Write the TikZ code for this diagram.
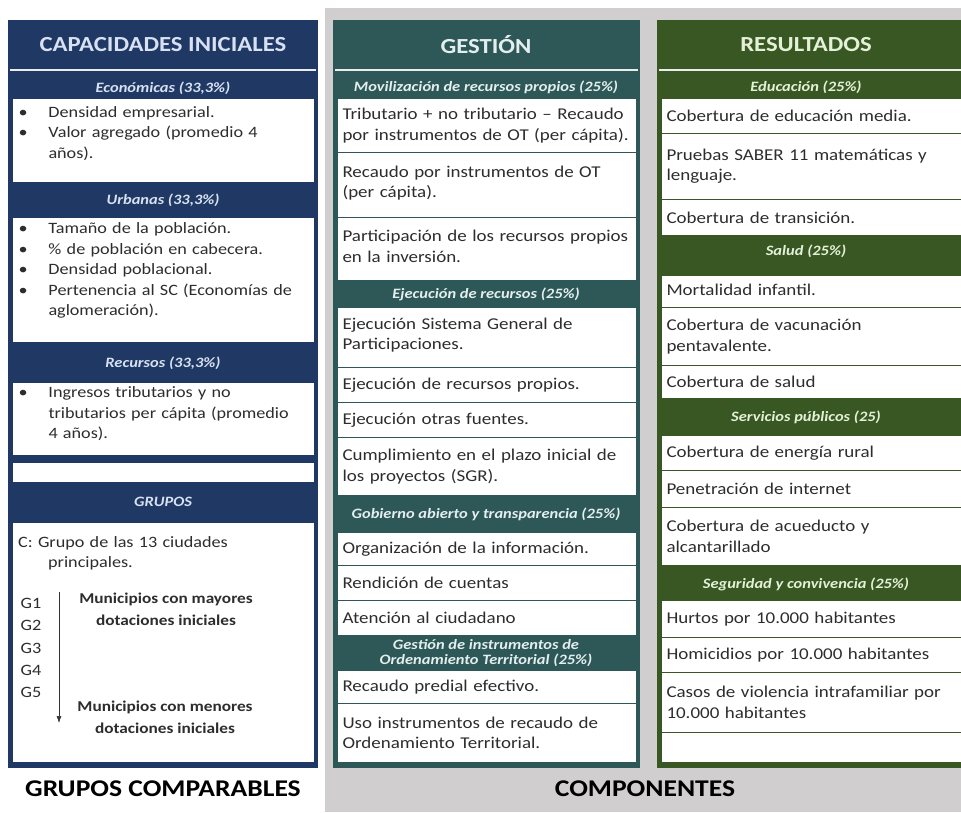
\documentclass[tikz,border=0pt]{standalone}
\usepackage{fontspec}
\setmainfont{Carlito}[FakeStretch=1.15]
\usetikzlibrary{arrows.meta}

\definecolor{capBlue}{RGB}{32,56,100}
\definecolor{gesTeal}{RGB}{46,88,88}
\definecolor{resGreen}{RGB}{56,87,35}
\definecolor{bgGray}{RGB}{208,206,206}
\definecolor{txt}{RGB}{45,45,45}
\definecolor{subBlue}{RGB}{215,225,242}
\definecolor{subTeal}{RGB}{228,238,238}
\definecolor{subGreen}{RGB}{228,240,215}

\newcommand\bodyfont{\fontsize{16.5}{20.5}\selectfont}
\newcommand\leftfont{\fontsize{15.8}{20.5}\selectfont}
\newcommand\bul[1]{\par\hangindent=31pt\hangafter=1\noindent\makebox[31pt][l]{\hspace{1pt}\textbullet}#1\par}
\newcommand\lift[1]{\par\vspace*{-#1pt}\noindent}

\begin{document}
\begin{tikzpicture}[x=1pt,y=-1pt,
  head/.style={font=\fontsize{21.5}{24}\selectfont\bfseries},
  sub/.style={font=\fontsize{14.3}{15}\selectfont\bfseries\itshape,align=center},
  cell/.style={fill=white,anchor=north west,inner sep=5pt,align=left,font=\bodyfont,text=txt,line width=1pt},
  cellL/.style={cell,draw=capBlue,text width=292pt,font=\leftfont},
  cellM/.style={cell,draw=gesTeal,text width=289pt},
  cellR/.style={cell,draw=resGreen,text width=304pt},
  plain/.style={font=\leftfont,text=txt,inner sep=0pt},
  muni/.style={font=\fontsize{15}{22}\selectfont\bfseries,text=txt,align=center,inner sep=0pt},
  foot/.style={font=\fontsize{24}{28}\selectfont\bfseries,text=black}]
\def\colL{163}
\def\colM{486}
\def\colR{806}

\useasboundingbox (0,0) rectangle (961,812);
\clip (0,0) rectangle (961,812);

% fondos
\fill[bgGray] (325,8) rectangle (961,812);
\fill[capBlue] (8,20) rectangle (318,768);
\fill[gesTeal] (333,20) rectangle (640,768);
\fill[resGreen] (657,20) rectangle (975,768);
\draw[white!85!gray,line width=1.5pt] (10,70) -- (316,70);
\draw[white!85!gray,line width=1.5pt] (335,70) -- (638,70);
\draw[white!85!gray,line width=1.5pt] (659,70) -- (975,70);

% capacidades iniciales
\node[head,text=subBlue] (capH) at (\colL,45) {CAPACIDADES INICIALES};
\node[sub,text=subBlue] (econ) at (\colL,88) {Económicas (33,3\%)};
\node[cellL,minimum height=84pt] (econB) at (12,98) {\lift{24}\bul{Densidad empresarial.}\bul{Valor agregado (promedio 4\newline años).}};
\node[sub,text=subBlue] (urb) at (\colL,200) {Urbanas (33,3\%)};
\node[cellL,minimum height=125pt] (urbB) at (12,217) {\lift{28}\bul{Tamaño de la población.}\bul{\% de población en cabecera.}\bul{Densidad poblacional.}\bul{Pertenencia al SC (Economías de\newline aglomeración).}};
\node[sub,text=subBlue] (recu) at (\colL,363) {Recursos (33,3\%)};
\node[cellL,minimum height=73pt] (recB) at (12,382) {\lift{20}\bul{Ingresos tributarios y no\newline tributarios per cápita (promedio\newline 4 años).}};
\node[cellL,minimum height=20pt] (blankL) at (12,462) {};
\node[sub,text=subBlue] (grp) at (\colL,502) {GRUPOS};
\node[cellL,minimum height=240pt] (grpB) at (12,522) {};

\node[plain,anchor=north west,text width=290pt,align=left] (grpC) at (18,536) {\hangindent=30pt\hangafter=1 C: Grupo de las 13 ciudades\newline principales.\par};
\node[plain] (g1) at (31,603) {G1};
\node[plain] (g2) at (31,625) {G2};
\node[plain] (g3) at (31,648) {G3};
\node[plain] (g4) at (31,670) {G4};
\node[plain] (g5) at (31,692) {G5};
\coordinate (arrTop) at (59,592);
\coordinate (arrBot) at (59,723);
\draw[-{Latex[length=7pt,width=5pt]},line width=0.6pt,black!80] (arrTop) -- (arrBot);
\node[muni] (mayor) at (166,609) {Municipios con mayores\\dotaciones iniciales};
\node[muni] (menor) at (165,717) {Municipios con menores\\dotaciones iniciales};

% gestion
\node[head,text=subTeal] (gesH) at (\colM,45) {GESTIÓN};
\node[sub,text=subTeal] (movil) at (\colM,87) {Movilización de recursos propios (25\%)};
\node[cellM,minimum height=54pt] (gesA1) at (337,98) {Tributario + no tributario -- Recaudo\\por instrumentos de OT (per cápita).};
\node[cellM,minimum height=65pt] (gesA2) at (337,152) {\lift{13}Recaudo por instrumentos de OT\newline (per cápita).};
\node[cellM,minimum height=63pt] (gesA3) at (337,217) {\lift{14}Participación de los recursos propios\newline en la inversión.};
\node[sub,text=subTeal] (ejec) at (\colM,294) {Ejecución de recursos (25\%)};
\node[cellM,minimum height=60pt] (gesB1) at (337,307) {\lift{14}Ejecución Sistema General de\newline Participaciones.};
\node[cellM,minimum height=35pt] (gesB2) at (337,367) {Ejecución de recursos propios.};
\node[cellM,minimum height=35pt] (gesB3) at (337,402) {Ejecución otras fuentes.};
\node[cellM,minimum height=58pt] (gesB4) at (337,437) {Cumplimiento en el plazo inicial de\\los proyectos (SGR).};
\node[sub,text=subTeal] (gob) at (\colM,514) {Gobierno abierto y transparencia (25\%)};
\node[cellM,minimum height=33pt] (gesC1) at (337,532) {Organización de la información.};
\node[cellM,minimum height=35pt] (gesC2) at (337,565) {Rendición de cuentas};
\node[cellM,minimum height=35pt] (gesC3) at (337,600) {Atención al ciudadano};
\node[sub,text=subTeal] (instr) at (\colM,653) {Gestión de instrumentos de\\Ordenamiento Territorial (25\%)};
\node[cellM,minimum height=33pt] (gesD1) at (337,670) {Recaudo predial efectivo.};
\node[cellM,minimum height=59pt] (gesD2) at (337,703) {Uso instrumentos de recaudo de\\Ordenamiento Territorial.};

% resultados
\node[head,text=subGreen] (resH) at (\colR,45) {RESULTADOS};
\node[sub,text=subGreen] (educ) at (\colR,87) {Educación (25\%)};
\node[cellR,minimum height=35pt] (resA1) at (661,98) {Cobertura de educación media.};
\node[cellR,minimum height=66pt] (resA2) at (661,133) {\lift{10}Pruebas SABER 11 matemáticas y\newline lenguaje.};
\node[cellR,minimum height=36pt] (resA3) at (661,199) {Cobertura de transición.};
\node[sub,text=subGreen] (salud) at (\colR,251) {Salud (25\%)};
\node[cellR,minimum height=32pt] (resB1) at (661,275) {\lift{12}Mortalidad infantil.};
\node[cellR,minimum height=58pt] (resB2) at (661,307) {Cobertura de vacunación\\pentavalente.};
\node[cellR,minimum height=33pt] (resB3) at (661,365) {Cobertura de salud};
\node[sub,text=subGreen] (serv) at (\colR,417) {Servicios públicos (25)};
\node[cellR,minimum height=35pt] (resC1) at (661,435) {Cobertura de energía rural};
\node[cellR,minimum height=37pt] (resC2) at (661,470) {Penetración de internet};
\node[cellR,minimum height=58pt] (resC3) at (661,507) {Cobertura de acueducto y\\alcantarillado};
\node[sub,text=subGreen] (segu) at (\colR,584) {Seguridad y convivencia (25\%)};
\node[cellR,minimum height=37pt] (resD1) at (661,600) {Hurtos por 10.000 habitantes};
\node[cellR,minimum height=35pt] (resD2) at (661,637) {Homicidios por 10.000 habitantes};
\node[cellR,minimum height=60pt] (resD3) at (661,672) {Casos de violencia intrafamiliar por\\10.000 habitantes};
\node[cellR,minimum height=30pt] (blankR) at (661,732) {};

% pies
\node[foot] (grpF) at (\colL,789) {GRUPOS COMPARABLES};
\node[foot] (compF) at (645,789) {COMPONENTES};
\end{tikzpicture}
\end{document}
